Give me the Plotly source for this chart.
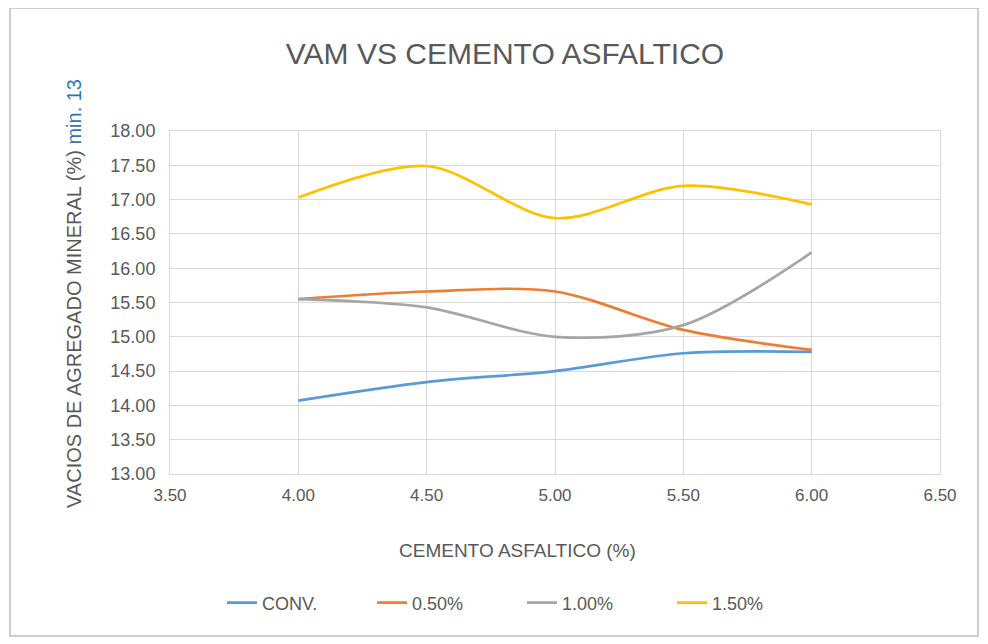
import plotly.graph_objects as go

x_vals = [4.00, 4.50, 5.00, 5.50, 6.00]
conv = [14.07, 14.34, 14.50, 14.76, 14.78]
p050 = [15.55, 15.66, 15.66, 15.10, 14.81]
p100 = [15.55, 15.43, 15.00, 15.17, 16.23]
p150 = [17.03, 17.49, 16.73, 17.20, 16.93]
series_names = ["CONV.", "0.50%", "1.00%", "1.50%"]
colors = ["#5B9BD5", "#ED7D31", "#A5A5A5", "#FFC000"]

FONT = "Liberation Sans, Arial, sans-serif"
GRAY = "#595959"

# page offset (body margin) compensation
OFF = 8
W, H = 988, 644
# plot area in reference (screen) pixels
L_s, R_s, T_s, B_s = 170, 940, 131, 474
L = L_s - OFF
T = T_s - OFF
R = W - (R_s - OFF)
B = H - (B_s - OFF)
pw, ph = W - L - R, H - T - B

def px(xs):
    return (xs - OFF - L) / pw

def py(ys):
    return (H - B - (ys - OFF)) / ph

fig = go.Figure()
for name, ys, c in zip(series_names, [conv, p050, p100, p150], colors):
    fig.add_trace(go.Scatter(x=x_vals, y=ys, mode="lines", name=name,
                             line=dict(color=c, width=2.7, shape="spline", smoothing=0.9)))

fig.update_layout(
    width=W, height=H,
    margin=dict(l=L, r=R, t=T, b=B),
    paper_bgcolor="white", plot_bgcolor="white",
    font=dict(family=FONT, color=GRAY),
    title=dict(text="VAM VS CEMENTO ASFALTICO", x=(505 - OFF) / W, xanchor="center",
               y=1 - (53 - OFF) / H, yanchor="middle",
               font=dict(size=30, color=GRAY, family=FONT)),
    xaxis=dict(range=[3.5, 6.5], dtick=0.5, tick0=3.5, tickformat=".2f",
               showgrid=True, gridcolor="#D9D9D9", gridwidth=1,
               showline=True, linecolor="#D9D9D9", mirror=True,
               zeroline=False, ticks="", tickfont=dict(size=17, color=GRAY),
               ticklabelstandoff=6, fixedrange=True),
    yaxis=dict(range=[13, 18], dtick=0.5, tick0=13, tickformat=".2f",
               showgrid=True, gridcolor="#D9D9D9", gridwidth=1,
               showline=True, linecolor="#D9D9D9", mirror=True,
               zeroline=False, ticks="", tickfont=dict(size=18, color=GRAY),
               ticklabelstandoff=10),
    showlegend=True,
    legend=dict(orientation="h", x=px(522), xanchor="center", y=py(603), yanchor="middle",
                font=dict(size=18, color=GRAY), entrywidth=105, entrywidthmode="pixels",
                traceorder="normal"),
    annotations=[
        dict(text="CEMENTO ASFALTICO (%)", xref="paper", yref="paper",
             x=px(517), y=py(550), xanchor="center", yanchor="middle",
             showarrow=False, font=dict(size=19, color=GRAY)),
        dict(text='VACIOS DE AGREGADO MINERAL (%) <span style="color:#2E75B6">min. 13</span>',
             xref="paper", yref="paper", x=px(74), y=py(294), xanchor="center", yanchor="middle",
             textangle=-90, showarrow=False, font=dict(size=20, color=GRAY)),
    ],
    shapes=[
        dict(type="rect", xref="paper", yref="paper",
             x0=px(10), x1=px(978), y0=py(636), y1=py(8),
             line=dict(color="#BFBFBF", width=1.5), fillcolor="rgba(0,0,0,0)", layer="below"),
    ],
)

fig.write_html("out.html")
